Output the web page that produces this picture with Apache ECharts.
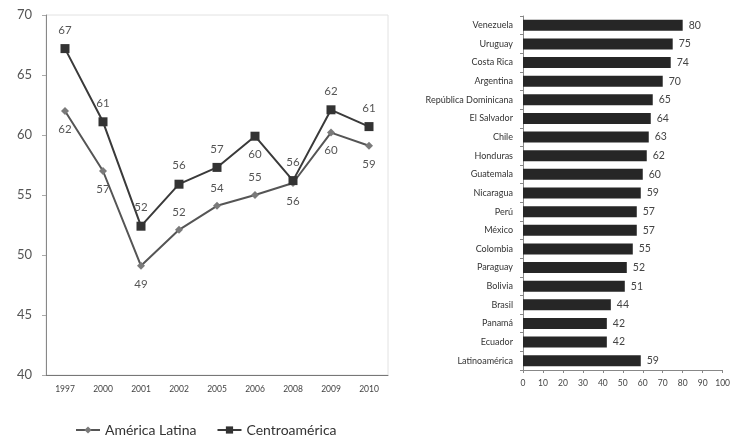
<!DOCTYPE html>
<html>
<head>
<meta charset="utf-8">
<script src="https://cdn.jsdelivr.net/npm/echarts@6/dist/echarts.min.js"></script>
<style>
  html, body { margin: 0; padding: 0; background: #fff; }
  #chart { width: 733px; height: 436px; }
</style>
</head>
<body>
<div id="chart"></div>
<script>
// left chart: years and two series
var years = ['1997', '2000', '2001', '2002', '2005', '2006', '2008', '2009', '2010'];
var americaLatina = [62, 57, 49.1, 52.1, 54.1, 55, 56, 60.2, 59.1];
var centroamerica = [67.2, 61.1, 52.4, 55.9, 57.3, 59.9, 56.2, 62.1, 60.7];

// where each point label sits
var alLabelPos = ['bottom', 'bottom', 'bottom', 'top', 'top', 'top', 'bottom', 'bottom', 'bottom'];
var caLabelPos = ['top', 'top', 'top', 'top', 'top', 'bottom', 'top', 'top', 'top'];

// right chart: countries and values
var countries = ['Venezuela', 'Uruguay', 'Costa Rica', 'Argentina', 'República Dominicana',
    'El Salvador', 'Chile', 'Honduras', 'Guatemala', 'Nicaragua', 'Perú', 'México',
    'Colombia', 'Paraguay', 'Bolivia', 'Brasil', 'Panamá', 'Ecuador', 'Latinoamérica'];
var countryValues = [80, 75, 74, 70, 65, 64, 63, 62, 60, 59, 57, 57, 55, 52, 51, 44, 42, 42, 59];

var font = 'Lato, "Open Sans", sans-serif';

var chart = echarts.init(document.getElementById('chart'));

var pointData = (vals, pos) => vals.map((v, i) => ({
    value: v,
    label: {position: pos[i]}
}));

var option = {
    animation: false,
    textStyle: {fontFamily: font},
    legend: {
        left: 70,
        top: 418,
        itemWidth: 24,
        itemHeight: 9,
        itemGap: 20,
        textStyle: {fontSize: 14, color: '#333', fontFamily: font},
        data: ['América Latina', 'Centroamérica']
    },
    grid: [
        {left: 46, top: 15, width: 342, height: 360, show: true, borderColor: '#e2e2e2', borderWidth: 1},
        {left: 523, top: 16, width: 202, height: 354}
    ],
    xAxis: [
        {
            gridIndex: 0,
            type: 'category',
            data: years,
            axisLine: {lineStyle: {color: '#777'}},
            axisTick: {show: false},
            axisLabel: {fontSize: 8.5, color: '#444', margin: 10, fontFamily: font}
        },
        {
            gridIndex: 1,
            type: 'value',
            min: 0,
            max: 100,
            interval: 10,
            splitLine: {show: false},
            axisLine: {show: true, lineStyle: {color: '#888'}},
            axisTick: {show: true, length: 3, lineStyle: {color: '#888'}},
            axisLabel: {fontSize: 8.5, color: '#444', margin: 9, fontFamily: font}
        }
    ],
    yAxis: [
        {
            gridIndex: 0,
            type: 'value',
            min: 40,
            max: 70,
            interval: 5,
            splitLine: {show: false},
            axisLine: {show: true, lineStyle: {color: '#888'}},
            axisTick: {show: true, length: 4, lineStyle: {color: '#aaa'}},
            axisLabel: {fontSize: 13, color: '#555', margin: 14, fontFamily: font}
        },
        {
            gridIndex: 1,
            type: 'category',
            inverse: true,
            data: countries,
            axisLine: {show: true, lineStyle: {color: '#888'}},
            axisTick: {show: true, length: 3, lineStyle: {color: '#888'}},
            axisLabel: {fontSize: 9, color: '#333', margin: 10, fontFamily: font}
        }
    ],
    series: [
        {
            name: 'América Latina',
            type: 'line',
            xAxisIndex: 0,
            yAxisIndex: 0,
            data: pointData(americaLatina, alLabelPos),
            symbol: 'diamond',
            symbolSize: 8,
            itemStyle: {color: '#7a7a7a'},
            lineStyle: {color: '#555', width: 2},
            label: {
                show: true,
                fontSize: 11.5,
                color: '#555',
                distance: 8,
                formatter: p => Math.round(p.value)
            }
        },
        {
            name: 'Centroamérica',
            type: 'line',
            xAxisIndex: 0,
            yAxisIndex: 0,
            data: pointData(centroamerica, caLabelPos),
            symbol: 'rect',
            symbolSize: 9,
            itemStyle: {color: '#333'},
            lineStyle: {color: '#3a3a3a', width: 2},
            label: {
                show: true,
                fontSize: 11.5,
                color: '#555',
                distance: 8,
                formatter: p => Math.round(p.value)
            }
        },
        {
            name: 'países',
            type: 'bar',
            xAxisIndex: 1,
            yAxisIndex: 1,
            data: countryValues,
            barWidth: 11,
            itemStyle: {color: '#262626'},
            label: {
                show: true,
                position: 'right',
                distance: 6,
                fontSize: 10.5,
                color: '#444',
                fontFamily: font
            }
        }
    ]
};

chart.setOption(option);
</script>
</body>
</html>
